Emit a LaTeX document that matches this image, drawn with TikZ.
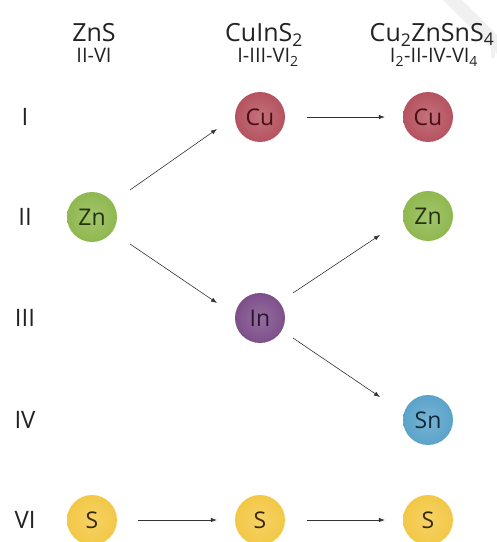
\documentclass[tikz,border=0pt]{standalone}
\usepackage{fontspec}
\setmainfont{Open Sans}
\usetikzlibrary{arrows.meta}
\definecolor{cuC}{HTML}{B5535F}
\definecolor{znC}{HTML}{8FB84F}
\definecolor{inC}{HTML}{7D4F8A}
\definecolor{snC}{HTML}{5BA3CA}
\definecolor{sC}{HTML}{F3C846}
\definecolor{cuT}{HTML}{4A0E14}
\definecolor{znT}{HTML}{26340E}
\definecolor{inT}{HTML}{2A1530}
\definecolor{snT}{HTML}{0F2A3A}
\definecolor{sT}{HTML}{3A2A05}
\definecolor{lineC}{HTML}{333333}
\definecolor{textC}{HTML}{222222}
\tikzset{
  atom/.style n args={2}{circle, minimum size=50pt, inner sep=0pt,
    inner color=#1!82!white, outer color=#1, text=#2,
    font=\fontsize{23}{25}\selectfont},
  rowlab/.style={text=textC, font=\fontsize{24}{26}\selectfont, anchor=center},
  head/.style={text=textC, font=\fontsize{25}{27}\selectfont, anchor=base, inner sep=0pt},
  subhead/.style={text=textC, font=\fontsize{20}{22}\selectfont, anchor=base, inner sep=0pt},
  arr/.style={draw=lineC, line width=0.6pt, -{Latex[length=6pt,width=4.5pt]}},
}
\begin{document}
\begin{tikzpicture}[x=1pt,y=1pt]
\useasboundingbox (0,0) rectangle (497,542);
% faint mark in the upper right corner
\fill[gray!12] (443,542) -- (462,542) -- (497,507) -- (497,488) -- cycle;
\fill[gray!12] (491,502) rectangle (495,484);

% column headings
\node[head] (h1) at (94,500) {ZnS};
\node[subhead] (h1s) at (94,479) {II-VI};
\node[head] (h2) at (264,500) {CuInS\textsubscript{2}};
\node[subhead] (h2s) at (268,479) {I-III-VI\textsubscript{2}};
\node[head] (h3) at (432,500) {Cu\textsubscript{2}ZnSnS\textsubscript{4}};
\node[subhead] (h3s) at (434,479) {I\textsubscript{2}-II-IV-VI\textsubscript{4}};

% row labels (group numbers)
\node[rowlab] (r1) at (25,425) {I};
\node[rowlab] (r2) at (25,325) {II};
\node[rowlab] (r3) at (25,224) {III};
\node[rowlab] (r4) at (25,122) {IV};
\node[rowlab] (r6) at (25,22) {VI};

% atoms
\node[atom={znC}{znT}] (zn) at (92,325) {Zn};
\node[atom={cuC}{cuT}] (cu1) at (260,425) {Cu};
\node[atom={inC}{inT}] (in) at (260,224) {In};
\node[atom={cuC}{cuT}] (cu2) at (428,425) {Cu};
\node[atom={znC}{znT}] (zn2) at (428,326) {Zn};
\node[atom={snC}{snT}] (sn) at (428,122) {Sn};
\node[atom={sC}{sT}] (s1) at (92,22) {S};
\node[atom={sC}{sT}] (s2) at (260,22) {S};
\node[atom={sC}{sT}] (s3) at (428,22) {S};

% connectors
\draw[arr] ([shift={(38,27)}]zn.center) -- ([shift={(-43,-12)}]cu1.center);
\draw[arr] ([shift={(38,-27)}]zn.center) -- ([shift={(-43,15)}]in.center);
\draw[arr] ([shift={(33,25)}]in.center) -- ([shift={(-48,-19)}]zn2.center);
\draw[arr] ([shift={(33,-20)}]in.center) -- ([shift={(-48,23)}]sn.center);
\draw[arr, shorten <=22pt, shorten >=18pt] (cu1.east) -- (cu2.west);
\draw[arr, shorten <=21pt, shorten >=18pt] (s1.east) -- (s2.west);
\draw[arr, shorten <=22pt, shorten >=18pt] (s2.east) -- (s3.west);
\end{tikzpicture}
\end{document}
